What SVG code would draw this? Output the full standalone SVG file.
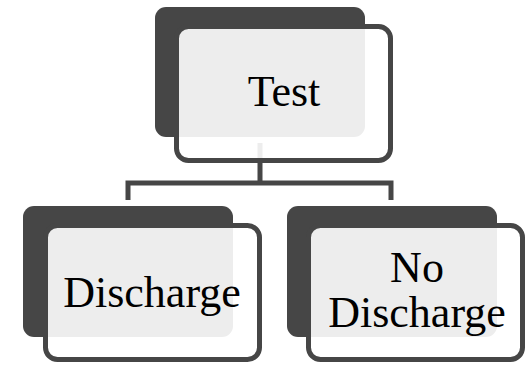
<svg xmlns="http://www.w3.org/2000/svg" width="529" height="365" viewBox="0 0 529 365">
<style>
.back{fill:#464646}
.front{fill:#ffffff;fill-opacity:0.9;stroke:#464646;stroke-width:5}
.conn{fill:none;stroke:#464646;stroke-width:5}
.lbl{font-family:"Liberation Serif","DejaVu Serif",serif;font-size:44px;fill:#000;text-anchor:middle}
</style>
<rect width="529" height="365" fill="#ffffff"/>
<g id="connectors">
<path class="conn" d="M260,143 V183 M128,200 V183 H391 V200"/>
</g>
<g id="node-test">
<rect class="back" x="155" y="7" width="210" height="130" rx="11"/>
<rect class="front" x="176.5" y="26.5" width="214" height="134" rx="12"/>
<text class="lbl" x="284" y="106">Test</text>
</g>
<g id="node-discharge">
<rect class="back" x="23" y="206" width="210" height="131" rx="11"/>
<rect class="front" x="45.5" y="225.5" width="214" height="134" rx="12"/>
<text class="lbl" x="152" y="307">Discharge</text>
</g>
<g id="node-no-discharge">
<rect class="back" x="287" y="206" width="210" height="131" rx="11"/>
<rect class="front" x="308.5" y="225.5" width="214" height="134" rx="12"/>
<text class="lbl" x="417" y="282">No</text>
<text class="lbl" x="417" y="327">Discharge</text>
</g>
</svg>
